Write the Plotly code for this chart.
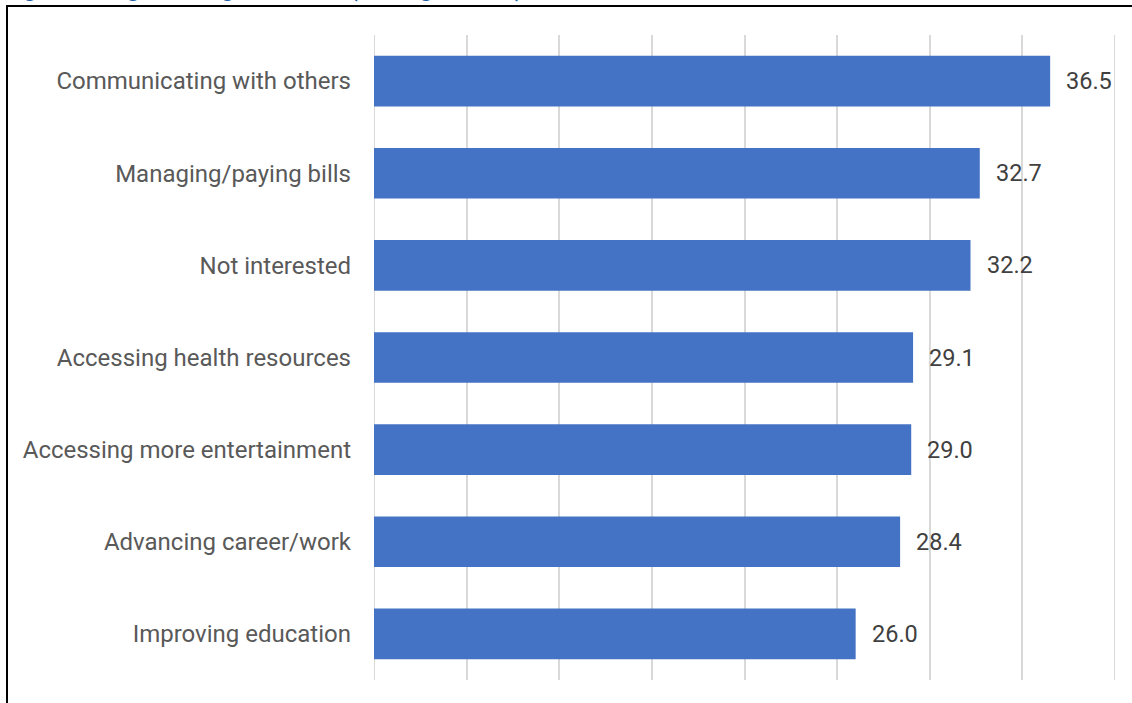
import plotly.graph_objects as go

categories = [
    "Communicating with others",
    "Managing/paying bills",
    "Not interested",
    "Accessing health resources",
    "Accessing more entertainment",
    "Advancing career/work",
    "Improving education",
]
values = [36.5, 32.7, 32.2, 29.1, 29.0, 28.4, 26.0]
value_labels = [f"{v:.1f}" for v in values]
title_text = "Figure 4. Digital Usage Benefits (Average Score)"
x_min, x_max = 0, 40

W, H = 1132, 703
L, R, T, B = 374, 17, 35, 23
pw, ph = W - L - R, H - T - B

fig = go.Figure()
fig.add_trace(go.Bar(
    y=categories,
    x=values,
    orientation="h",
    marker=dict(color="#4472C4", line=dict(width=0)),
    width=0.55,
    hoverinfo="skip",
))

annotations = []
for c, v, t in zip(categories, values, value_labels):
    annotations.append(dict(
        x=v, y=c, xref="x", yref="y", text=t, showarrow=False,
        xanchor="left", yanchor="middle", xshift=14,
        font=dict(family="Roboto", size=23.5, color="#404040"),
    ))

# partially cropped title at top (cut off in the reference as well)
annotations.append(dict(
    x=(2 - L) / pw, y=1 + (T - 4) / ph, xref="paper", yref="paper",
    text="<b>" + title_text + "</b>", showarrow=False,
    xanchor="left", yanchor="bottom",
    font=dict(family="Roboto", size=24, color="#1F5FA6"),
))

shapes = [
    dict(type="line", xref="paper", yref="paper",
         x0=(6 - L) / pw, x1=(W + 5 - L) / pw,
         y0=1 + (T - 6) / ph, y1=1 + (T - 6) / ph,
         line=dict(color="black", width=2)),
    dict(type="line", xref="paper", yref="paper",
         x0=(7 - L) / pw, x1=(7 - L) / pw,
         y0=1 + (T - 6) / ph, y1=-(B + 10) / ph,
         line=dict(color="black", width=2)),
]
# edge gridlines (Plotly omits grid lines at the range edges)
for xv in (x_min, x_max):
    shapes.append(dict(type="line", xref="x", yref="paper",
                       x0=xv, x1=xv, y0=0, y1=1, layer="below",
                       line=dict(color="#D9D9D9", width=2)))

fig.update_layout(
    width=W, height=H,
    margin=dict(l=L, r=R, t=T, b=B, pad=0),
    paper_bgcolor="white", plot_bgcolor="white",
    showlegend=False,
    annotations=annotations,
    shapes=shapes,
    xaxis=dict(range=[x_min, x_max], tick0=0, dtick=5, showticklabels=False,
               showgrid=True, gridcolor="#D9D9D9", gridwidth=2,
               zeroline=False, showline=False, fixedrange=True),
    yaxis=dict(autorange="reversed", showgrid=False, zeroline=False,
               ticks="", ticklabelstandoff=22,
               tickfont=dict(family="Roboto", size=24, color="#595959")),
)
fig.update_xaxes(layer="below traces")

fig.write_html("out.html", config={"displayModeBar": False})
